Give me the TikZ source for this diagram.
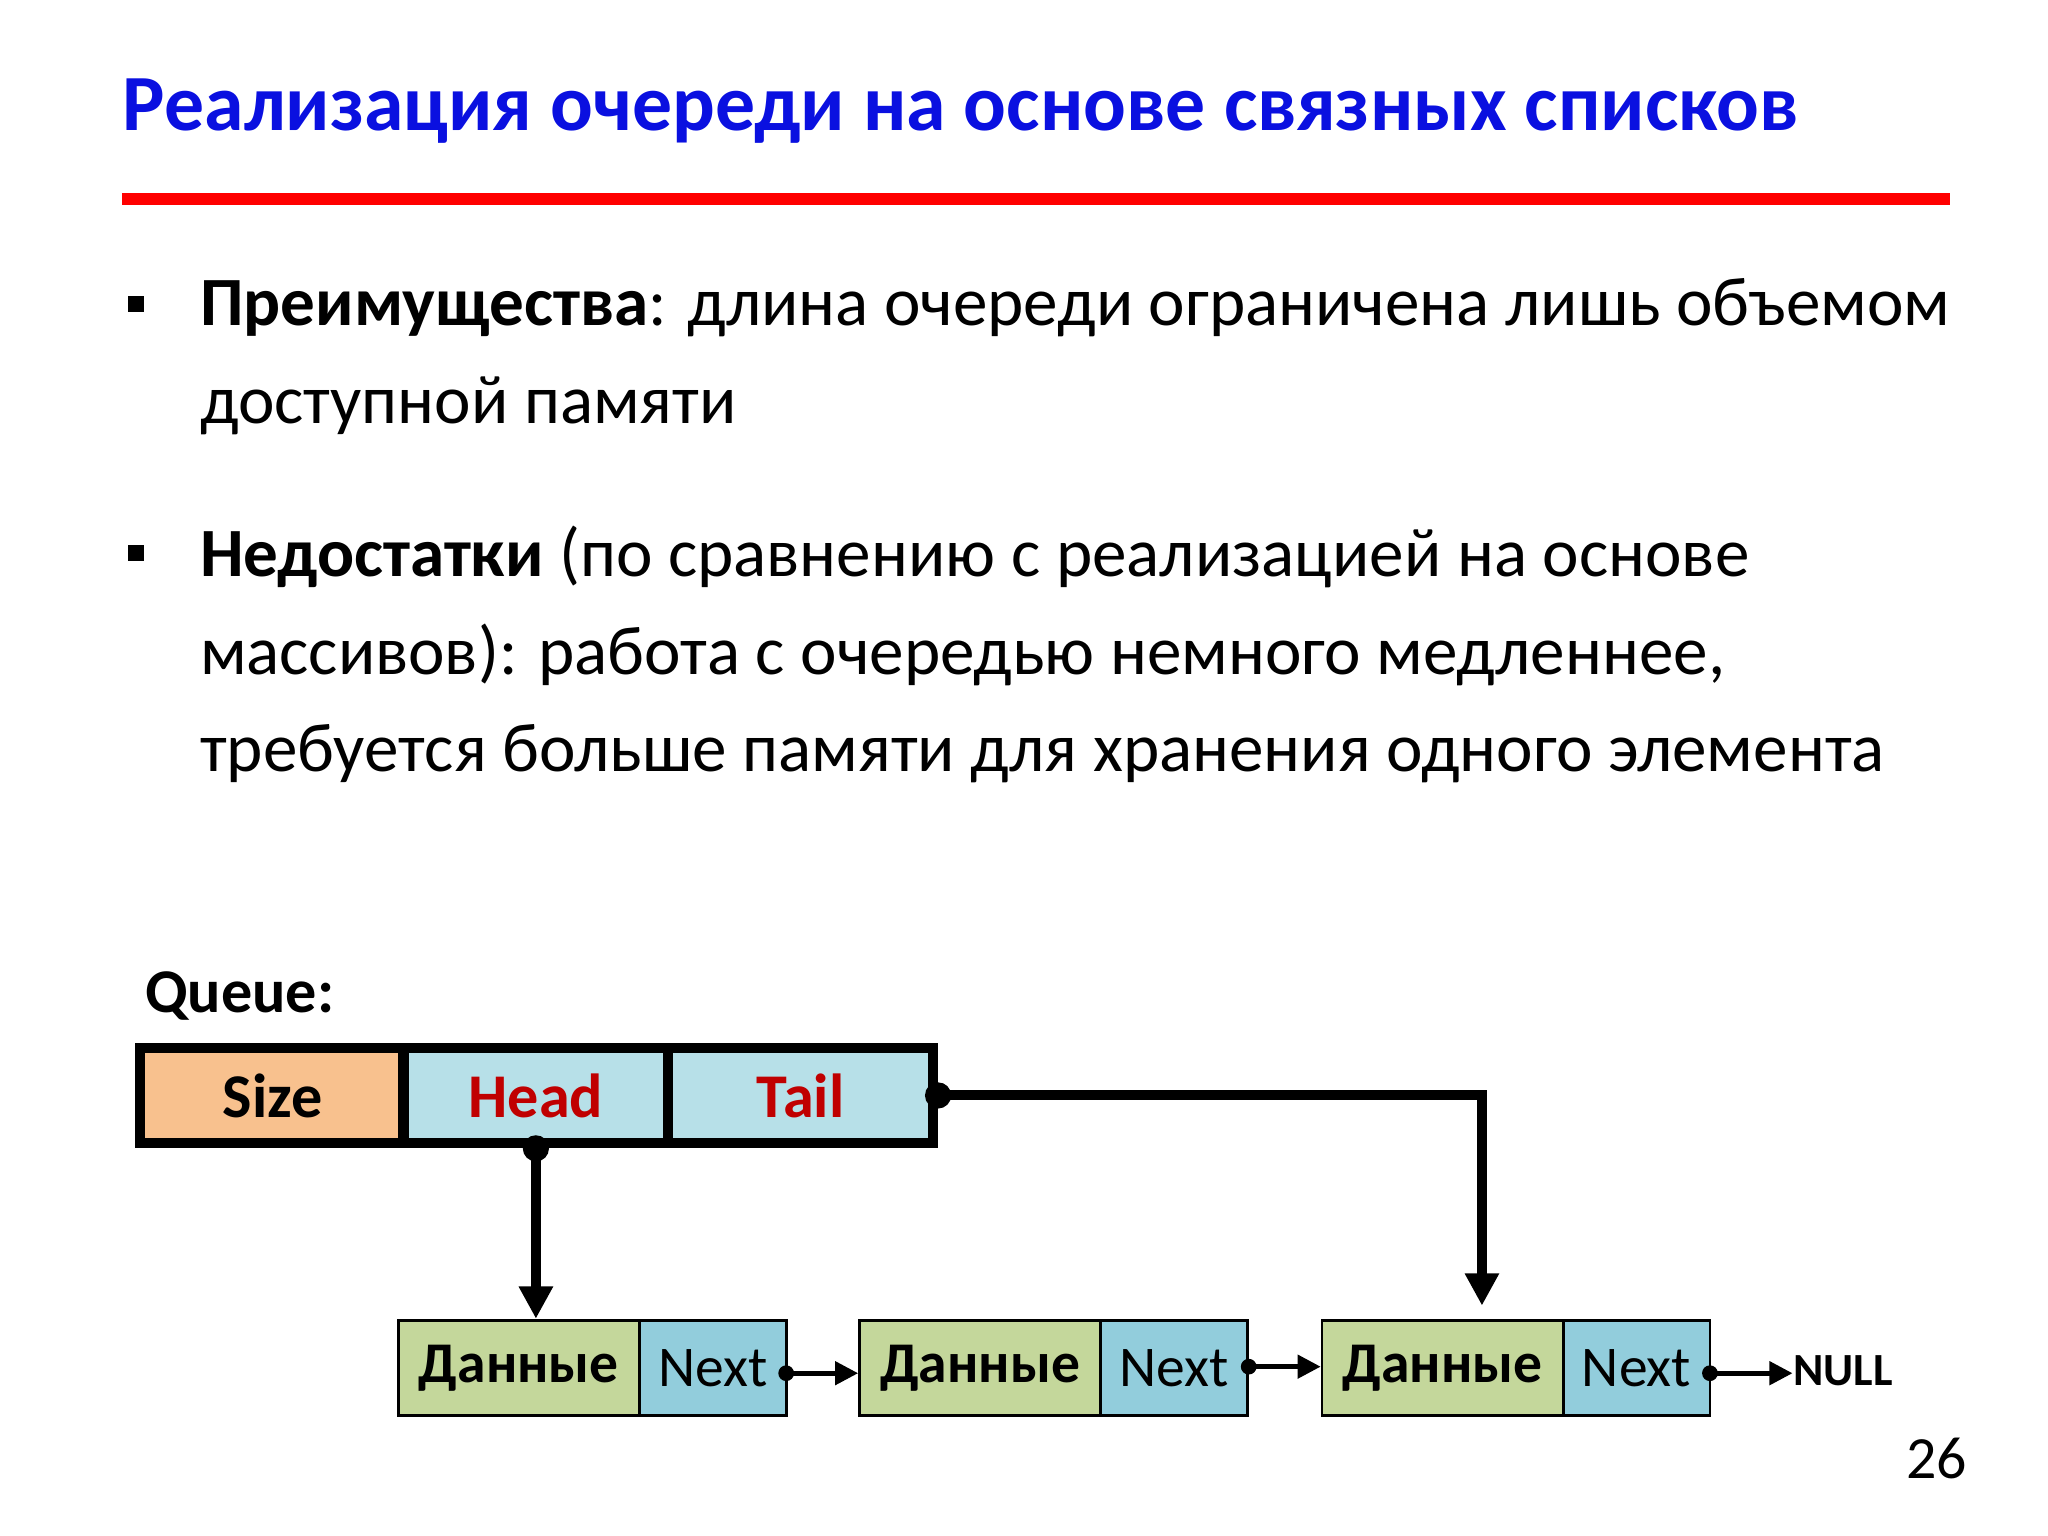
\documentclass[tikz,border=0pt]{standalone}
\usepackage{fontspec}
\setmainfont{Carlito}
\usetikzlibrary{arrows.meta}
\definecolor{ttl}{HTML}{0A10E0}
\definecolor{hred}{HTML}{C00000}
\definecolor{szc}{HTML}{F8C18E}
\definecolor{hdc}{HTML}{B7E0E8}
\definecolor{dgc}{HTML}{C4D79B}
\definecolor{nxc}{HTML}{92CDDC}
\begin{document}
\begin{tikzpicture}[x=0.01cm,y=-0.01cm,
  qcell/.style={draw,line width=2.2pt,minimum width=2.02cm,minimum height=0.73cm,font=\fontsize{13.5}{16}\selectfont\bfseries,inner sep=0pt},
  dcell/.style={draw,line width=0.6pt,fill=dgc,minimum width=1.84cm,minimum height=0.73cm,font=\fontsize{12.5}{15}\selectfont\bfseries,inner sep=0pt},
  ncell/.style={draw,line width=0.6pt,fill=nxc,minimum width=1.12cm,minimum height=0.73cm,font=\fontsize{12.5}{15}\selectfont,inner sep=0pt},
  body/.style={anchor=west,font=\fontsize{15}{18}\selectfont,inner sep=0pt},
  thick1/.style={line width=2.2pt,-{Triangle[length=7pt,width=7pt]}},
  thin1/.style={line width=1pt,-{Triangle[length=5pt,width=5pt]}},
  dotc/.style={circle,fill,inner sep=0pt,minimum size=#1}]
\useasboundingbox (0,0) rectangle (1563,1172);
\node[anchor=west,text=ttl,font=\fontsize{17.3}{20}\selectfont\bfseries,inner sep=0pt] (title) at (93,85) {Реализация очереди на основе связных списков};
\draw[red,line width=2.5pt] (93,152) -- (1488,152);
\node[fill,minimum size=0.12cm,inner sep=0pt] (b1) at (104,232) {};
\node[fill,minimum size=0.12cm,inner sep=0pt] (b2) at (104,422) {};
\node[body] (l1) at (152,235) {\hbox to 13.35cm{\textbf{Преимущества}: длина очереди ограничена лишь объемом}};
\node[body] (l2) at (152,310) {доступной памяти};
\node[body] (l3) at (152,425) {\textbf{Недостатки} (по сравнению с реализацией на основе};
\node[body] (l4) at (152,500) {массивов): работа с очередью немного медленнее,};
\node[body] (l5) at (152,575) {требуется больше памяти для хранения одного элемента};
\node[anchor=west,font=\fontsize{13.5}{16}\selectfont\bfseries,inner sep=0pt] (q) at (110,760) {Queue:};
\node[qcell,fill=szc] (size) at (208,836) {Size};
\node[qcell,fill=hdc,text=hred] (head) at (409,836) {Head};
\node[qcell,fill=hdc,text=hred] (tail) at (611,836) {Tail};
\node[dcell] (d1) at (396,1044) {Данные};
\node[ncell] (n1) at (544,1044) {Next};
\node[dcell] (d2) at (748,1044) {Данные};
\node[ncell] (n2) at (896,1044) {Next};
\node[dcell] (d3) at (1101,1044) {Данные};
\node[ncell] (n3) at (1249,1044) {Next};
\node[anchor=west,font=\fontsize{10}{12}\selectfont\bfseries,inner sep=0pt] (null) at (1368,1046) {NULL};
\node[font=\fontsize{13}{16}\selectfont,inner sep=0pt] (pg) at (1478,1113) {26};
\node[dotc=0.2cm] (hd) at (head.south) {};
\node[dotc=0.2cm] (td) at (tail.east) {};
\coordinate (tc) at (1131,836);
\draw[thick1] (hd.center) -- (d1.north -| hd);
\draw[thick1] (td.center) -- (tc) -- ([yshift=0.1cm]d3.north -| tc);
\node[dotc=0.12cm] (p1) at (600,1048) {};
\node[dotc=0.12cm] (p2) at (953,1043) {};
\node[dotc=0.12cm] (p3) at (1305,1048) {};
\draw[thin1] (p1.center) -- (d2.west |- p1);
\draw[thin1] (p2.center) -- (d3.west |- p2);
\draw[thin1] (p3.center) -- (null.west |- p3);
\end{tikzpicture}
\end{document}
